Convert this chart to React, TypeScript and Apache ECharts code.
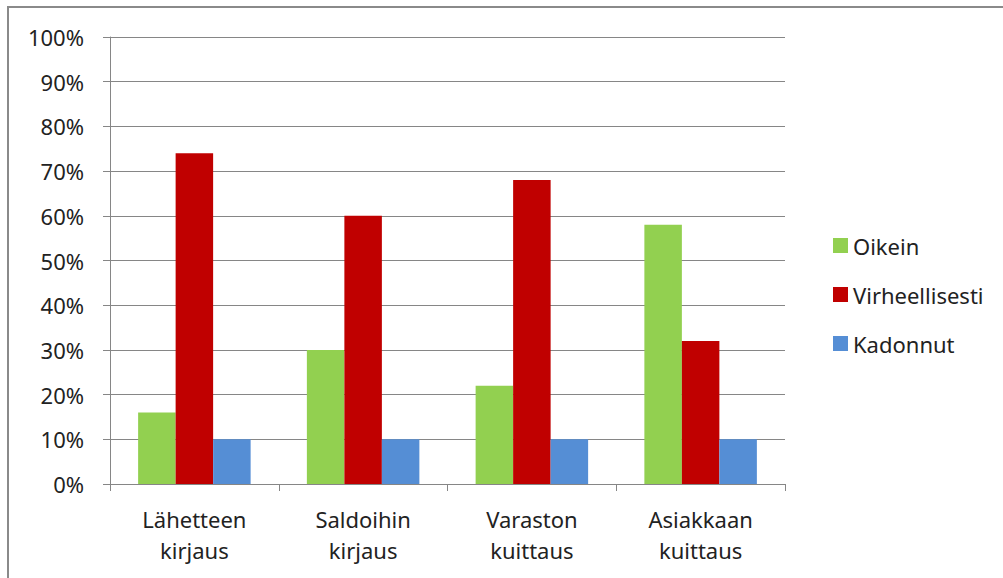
import React, { useEffect, useRef } from "react";
import * as echarts from "echarts";

const categories = ["Lähetteen\nkirjaus", "Saldoihin\nkirjaus", "Varaston\nkuittaus", "Asiakkaan\nkuittaus"];
const seriesNames = ["Oikein", "Virheellisesti", "Kadonnut"];
const oikein = [16, 30, 22, 58];
const virheellisesti = [74, 60, 68, 32];
const kadonnut = [10, 10, 10, 10];
const colors = ["#92D050", "#C00000", "#558ED5"];

export default function App() {
  const ref = useRef<HTMLDivElement>(null);
  useEffect(() => {
    if (!ref.current) return;
    const chart = echarts.init(ref.current, undefined, { renderer: "svg" });
    const font = "Noto Sans";
    const values = [oikein, virheellisesti, kadonnut];
    chart.setOption({
      animation: false,
      backgroundColor: "#ffffff",
      graphic: [
        {
          type: "rect",
          shape: { x: 8, y: 7, width: 1100, height: 700 },
          style: { fill: "none", stroke: "#8a8a8a", lineWidth: 2 },
          silent: true,
        },
      ],
      grid: { left: 110, top: 37, right: 218, bottom: 94, containLabel: false },
      legend: {
        orient: "vertical",
        left: 828,
        top: 228,
        itemWidth: 15,
        itemHeight: 15,
        itemGap: 24,
        icon: "rect",
        data: seriesNames,
        textStyle: { fontFamily: font, fontSize: 22, color: "#222", lineHeight: 25 },
      },
      xAxis: {
        type: "category",
        data: categories,
        axisLine: { lineStyle: { color: "#868686", width: 1 } },
        axisTick: { show: true, length: 7, alignWithLabel: false, lineStyle: { color: "#868686" } },
        axisLabel: { fontFamily: font, fontSize: 22, color: "#222", lineHeight: 31, margin: 19, interval: 0 },
        splitLine: { show: false },
      },
      yAxis: {
        type: "value",
        min: 0,
        max: 100,
        interval: 10,
        axisLine: { show: true, lineStyle: { color: "#868686", width: 1 } },
        axisTick: { show: true, length: 7, lineStyle: { color: "#868686" } },
        axisLabel: { formatter: "{value}%", fontFamily: font, fontSize: 22, color: "#222", margin: 26 },
        splitLine: { show: true, lineStyle: { color: "#868686", width: 1 } },
      },
      series: seriesNames.map((name, i) => ({
        name,
        type: "bar",
        data: values[i],
        barGap: "0%",
        barCategoryGap: "33.33%",
        itemStyle: { color: colors[i] },
      })),
    });
    return () => chart.dispose();
  }, []);
  return <div ref={ref} style={{ position: "fixed", left: 0, top: 0, width: 1003, height: 578 }} />;
}
